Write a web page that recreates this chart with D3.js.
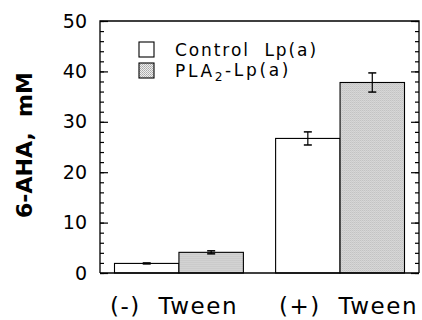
<!DOCTYPE html>
<html>
<head>
<meta charset="utf-8">
<script src="https://cdn.jsdelivr.net/npm/d3@7"></script>
<style>
  html, body { margin: 0; padding: 0; background: #fff; }
  svg { display: block; }
  text { font-family: "DejaVu Sans", Verdana, sans-serif; fill: #000; white-space: pre; }
</style>
</head>
<body>
<svg id="chart" width="422" height="320"></svg>
<script>
const categories = ["(-) Tween", "(+) Tween"];
const seriesNames = ["Control Lp(a)", "PLA2-Lp(a)"];
const controlValues = [1.9, 26.7];
const controlErrors = [0.1, 1.3];
const plaValues = [4.1, 37.8];
const plaErrors = [0.3, 1.9];
const yTicks = [0, 10, 20, 30, 40, 50];
const yMinorTicks = d3.range(0, 51, 2);

const svg = d3.select("#chart");
const margin = { left: 100, top: 21, right: 3, bottom: 47 };
const W = 422, H = 320;
const x0 = margin.left, x1 = W - margin.right;
const y0 = H - margin.bottom, y1 = margin.top;

// fit a text element's font size to a target width
function fit(sel, target) {
  const node = sel.node();
  const fs = parseFloat(sel.style("font-size"));
  const L = node.getComputedTextLength();
  sel.style("font-size", (fs * target / L) + "px");
}
// spread letters so the text reaches a target width
function spread(sel, target) {
  const node = sel.node();
  const L = node.getComputedTextLength();
  const n = node.textContent.length;
  sel.style("letter-spacing", Math.max(0, (target - L) / n) + "px");
}

// stipple pattern
const defs = svg.append("defs");
const pat = defs.append("pattern").attr("id", "stip").attr("patternUnits", "userSpaceOnUse")
  .attr("width", 2).attr("height", 2);
pat.append("rect").attr("width", 2).attr("height", 2).attr("fill", "#eeeeee");
pat.append("rect").attr("x", 0).attr("y", 0).attr("width", 1).attr("height", 1).attr("fill", "#a8a8a8");
pat.append("rect").attr("x", 1).attr("y", 1).attr("width", 1).attr("height", 1).attr("fill", "#b8b8b8");

const y = d3.scaleLinear().domain([0, 50]).range([y0, y1]);
const xg = d3.scaleBand().domain(categories).range([x0, x1]).paddingInner(0.2).paddingOuter(0.09);
const xs = d3.scaleBand().domain([0, 1]).range([0, xg.bandwidth()]).padding(0);

const data = categories.map((c, i) => ({
  cat: c,
  bars: [
    { s: 0, v: controlValues[i], e: controlErrors[i] },
    { s: 1, v: plaValues[i], e: plaErrors[i] }
  ]
}));
const fills = ["#ffffff", "url(#stip)"];

const g = svg.append("g");
const groups = g.selectAll("g.grp").data(data).join("g")
  .attr("transform", d => `translate(${xg(d.cat)},0)`);
groups.selectAll("rect").data(d => d.bars).join("rect")
  .attr("x", d => xs(d.s)).attr("width", xs.bandwidth())
  .attr("y", d => y(d.v)).attr("height", d => y(0) - y(d.v))
  .attr("fill", d => fills[d.s]).attr("stroke", "#000").attr("stroke-width", 1.1);

// error bars
groups.selectAll("g.err").data(d => d.bars).join("g").each(function(d) {
  const cx = xs(d.s) + xs.bandwidth() / 2;
  const s = d3.select(this);
  s.append("line").attr("x1", cx).attr("x2", cx).attr("y1", y(d.v + d.e)).attr("y2", y(d.v - d.e))
    .attr("stroke", "#000").attr("stroke-width", 1.2);
  [d.v + d.e, d.v - d.e].forEach(v => s.append("line")
    .attr("x1", cx - 4).attr("x2", cx + 4).attr("y1", y(v)).attr("y2", y(v))
    .attr("stroke", "#000").attr("stroke-width", 1.5));
});

// frame
svg.append("path").attr("d", `M${x0},${y0}V${y1}H${x1}V${y0}`).attr("fill", "none")
  .attr("stroke", "#000").attr("stroke-width", 1.3);
svg.append("line").attr("x1", x0).attr("x2", x1).attr("y1", y0).attr("y2", y0)
  .attr("stroke", "#000").attr("stroke-width", 1.5);

function tickAxis(axisFn, xPos, values, size) {
  const a = svg.append("g").attr("transform", `translate(${xPos},0)`)
    .call(axisFn(y).tickValues(values).tickSize(size).tickFormat(""));
  a.select(".domain").remove();
  a.selectAll("line").attr("stroke-width", 1.2);
}
tickAxis(d3.axisRight, x0, yMinorTicks, 4);
tickAxis(d3.axisRight, x0, yTicks, 8);
tickAxis(d3.axisLeft, x1, yMinorTicks, 4);
tickAxis(d3.axisLeft, x1, yTicks, 8);

// labels on left
const leftLab = svg.append("g").attr("transform", `translate(${x0},0)`)
  .call(d3.axisLeft(y).tickValues(yTicks).tickSize(0).tickPadding(13).tickFormat(d3.format("d")));
leftLab.select(".domain").remove();
leftLab.selectAll("text").style("font-family", "DejaVu Sans").style("font-size", "19px").attr("fill", "#000");

// x labels
const xLabelWidths = [128, 139];
const xLabelStarts = [110, 279];
categories.forEach((c, i) => {
  const t = svg.append("text").attr("x", xLabelStarts[i]).attr("y", 314)
    .style("font-size", "23px")
    .text(c.replace(" ", "  "));
  spread(t, xLabelWidths[i]);
});

// y title
const yt = svg.append("text").attr("transform", `translate(32,145) rotate(-90)`)
  .attr("text-anchor", "middle").style("font-size", "22px").style("font-weight", "bold")
  .text("6-AHA,  mM");
fit(yt, 146);

// legend
const legendWidths = [143, 116];
const leg = svg.append("g");
seriesNames.forEach((n, i) => {
  const ly = 42 + i * 21;
  leg.append("rect").attr("x", 139).attr("y", ly).attr("width", 15).attr("height", 15)
    .attr("fill", fills[i]).attr("stroke", "#000").attr("stroke-width", 1.1);
  const t = leg.append("text").attr("x", 175).attr("y", ly + 14).style("font-size", "17px");
  if (n.startsWith("PLA2")) {
    t.append("tspan").text("PLA");
    t.append("tspan").attr("dy", "0.3em").style("font-size", "0.72em").text("2");
    t.append("tspan").attr("dy", "-0.3em").text("-Lp(a)");
  } else {
    t.text(n.replace(" ", "  "));
  }
  spread(t, legendWidths[i]);
});
</script>
</body>
</html>
